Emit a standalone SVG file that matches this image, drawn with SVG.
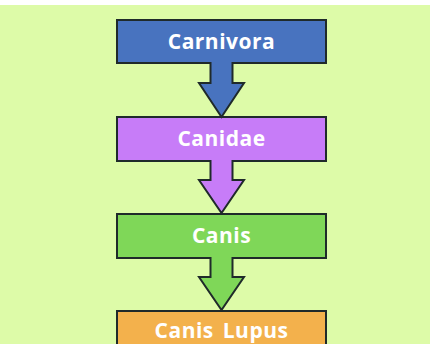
<svg xmlns="http://www.w3.org/2000/svg" width="430" height="344" viewBox="0 0 430 344">
<style>
.box{stroke:#1f2a2a;stroke-width:2}
.arr{stroke:#1f2a2a;stroke-width:2;stroke-linejoin:miter}
.lbl{font-family:"Open Sans","Liberation Sans",sans-serif;font-weight:bold;font-size:21px;letter-spacing:0.5px;word-spacing:3px;fill:#ffffff;text-anchor:middle}
</style>
<rect x="0" y="0" width="430" height="344" fill="#ffffff"/>
<rect x="0" y="5" width="430" height="339" fill="#ddfba8"/>
<g id="carnivora">
<rect class="box" x="117" y="20" width="209" height="43" fill="#4873bf"/>
<text class="lbl" x="221.5" y="48.5">Carnivora</text>
</g>
<g id="canidae">
<rect class="box" x="117" y="117" width="209" height="44" fill="#c77cf8"/>
<text class="lbl" x="221.5" y="145.5">Canidae</text>
</g>
<g id="canis">
<rect class="box" x="117" y="214" width="209" height="44" fill="#7fd758"/>
<text class="lbl" x="221.5" y="242.5">Canis</text>
</g>
<g id="canis-lupus">
<rect class="box" x="117" y="311" width="209" height="44" fill="#f3b14c"/>
<text class="lbl" x="221.5" y="337.5">Canis Lupus</text>
</g>
<g id="connectors">
<path class="arr" fill="#4873bf" d="M210.5,62 V83 H199 L221.5,117 L244,83 H232.5 V62"/>
<path class="arr" fill="#c77cf8" d="M210.5,160 V180 H199 L221.5,213 L244,180 H232.5 V160"/>
<path class="arr" fill="#7fd758" d="M210.5,257 V277 H199 L221.5,310 L244,277 H232.5 V257"/>
</g>
</svg>
